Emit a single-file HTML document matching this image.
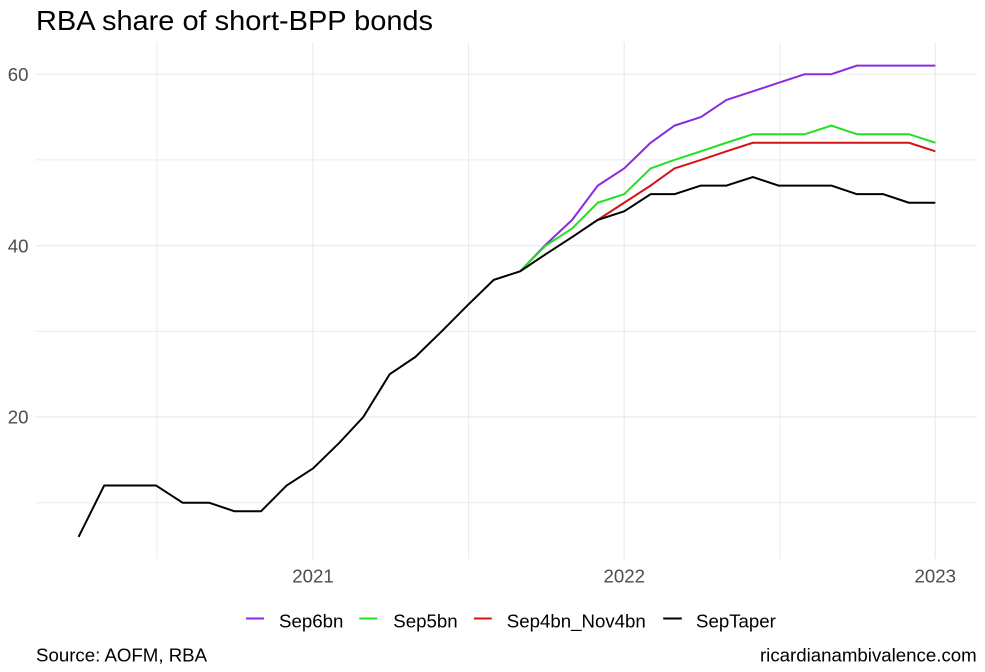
<!DOCTYPE html>
<html>
<head>
<meta charset="utf-8">
<style>
  html, body { margin: 0; padding: 0; background: #ffffff; }
  svg { display: block; }
  text { font-family: "Liberation Sans", Arial, sans-serif; }
</style>
</head>
<body>
<svg width="985" height="672" viewBox="0 0 985 672" xmlns="http://www.w3.org/2000/svg">
  <rect x="0" y="0" width="985" height="672" fill="#ffffff"/>

  <!-- Title -->
  <text x="36" y="30" font-size="28" fill="#000000" textLength="397" lengthAdjust="spacingAndGlyphs">RBA share of short-BPP bonds</text>

  <!-- Gridlines: minor -->
  <g stroke="#ebebeb" stroke-width="1" fill="none">
    <line x1="35" y1="159.9" x2="977" y2="159.9"/>
    <line x1="35" y1="331.3" x2="977" y2="331.3"/>
    <line x1="35" y1="502.7" x2="977" y2="502.7"/>
    <line x1="157" y1="42" x2="157" y2="559"/>
    <line x1="468.6" y1="42" x2="468.6" y2="559"/>
    <line x1="779.8" y1="42" x2="779.8" y2="559"/>
  </g>
  <!-- Gridlines: major -->
  <g stroke="#ebebeb" stroke-width="1.2" fill="none">
    <line x1="35" y1="74.2" x2="977" y2="74.2"/>
    <line x1="35" y1="245.6" x2="977" y2="245.6"/>
    <line x1="35" y1="417" x2="977" y2="417"/>
    <line x1="313" y1="42" x2="313" y2="559"/>
    <line x1="624.2" y1="42" x2="624.2" y2="559"/>
    <line x1="935.3" y1="42" x2="935.3" y2="559"/>
  </g>

  <!-- Y axis labels -->
  <g font-size="18.67" fill="#4d4d4d" text-anchor="end">
    <text x="28.5" y="80.9">60</text>
    <text x="28.5" y="252.3">40</text>
    <text x="28.5" y="423.7">20</text>
  </g>

  <!-- X axis labels -->
  <g font-size="18.67" fill="#4d4d4d" text-anchor="middle">
    <text x="313" y="582.7">2021</text>
    <text x="624.2" y="582.7">2022</text>
    <text x="935.3" y="582.7">2023</text>
  </g>

  <!-- Series -->
  <g fill="none" stroke-width="2" stroke-linejoin="round" stroke-linecap="butt">
    <!-- Sep6bn (purple) -->
    <polyline stroke="#8a2be2" points="
      520.16,271.31 545.73,244.6 572.16,219.89 597.74,185.61 624.16,168.47 650.59,142.76
      674.46,125.62 700.89,117.05 726.46,99.91 752.89,91.34 778.47,82.77 804.89,74.2
      831.32,74.2 856.90,65.63 883.32,65.63 908.90,65.63 935.33,65.63"/>
    <!-- Sep5bn (green) -->
    <polyline stroke="#22e022" points="
      520.16,271.31 545.73,245.6 572.16,228.46 597.74,202.75 624.16,194.18 650.59,168.47
      674.46,159.9 700.89,151.33 726.46,142.76 752.89,134.19 778.47,134.19 804.89,134.19
      831.32,125.62 856.90,134.19 883.32,134.19 908.90,134.19 935.33,142.76"/>
    <!-- Sep4bn_Nov4bn (red) -->
    <polyline stroke="#d41414" points="
      597.74,219.89 624.16,202.75 650.59,185.61 674.46,168.47 700.89,159.9 726.46,151.33
      752.89,142.76 778.47,142.76 804.89,142.76 831.32,142.76 856.90,142.76 883.32,142.76
      908.90,142.76 935.33,151.33"/>
    <!-- SepTaper (black) -->
    <polyline stroke="#000000" points="
      78.56,536.98 104.14,485.56 130.56,485.56 156.14,485.56 182.57,502.7 208.99,502.7
      234.57,511.27 261.0,511.27 286.57,485.56 313,468.42 339.43,442.71 363.30,417.0
      389.73,374.15 415.30,357.01 441.73,331.3 467.30,305.59 493.73,279.88 520.16,271.31
      545.73,254.17 572.16,237.03 597.74,219.89 624.16,211.32 650.59,194.18 674.46,194.18
      700.89,185.61 726.46,185.61 752.89,177.04 778.47,185.61 804.89,185.61 831.32,185.61
      856.90,194.18 883.32,194.18 908.90,202.75 935.33,202.75"/>
  </g>

  <!-- Legend -->
  <g stroke-width="2">
    <line x1="246" y1="618.5" x2="264" y2="618.5" stroke="#8a2be2"/>
    <line x1="359.3" y1="618.5" x2="377.3" y2="618.5" stroke="#22e022"/>
    <line x1="473.9" y1="618.5" x2="491.8" y2="618.5" stroke="#d41414"/>
    <line x1="663.2" y1="618.5" x2="681.8" y2="618.5" stroke="#000000"/>
  </g>
  <g font-size="18.67" fill="#000000">
    <text x="279" y="627.7">Sep6bn</text>
    <text x="393.3" y="627.7">Sep5bn</text>
    <text x="506.8" y="627.7">Sep4bn_Nov4bn</text>
    <text x="696" y="627.7">SepTaper</text>
  </g>

  <!-- Caption -->
  <g font-size="18.67" fill="#000000">
    <text x="36" y="661.7">Source: AOFM, RBA</text>
    <text x="976.7" y="661.7" text-anchor="end">ricardianambivalence.com</text>
  </g>
</svg>
</body>
</html>
